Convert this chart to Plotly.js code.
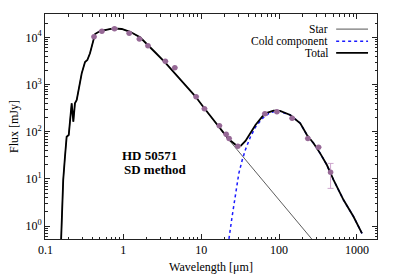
<!DOCTYPE html>
<html>
<head>
<meta charset="utf-8">
<script src="https://cdn.plot.ly/plotly-3.0.1.min.js"></script>
<style>html,body{margin:0;padding:0;background:#fff;}#chart{width:399px;height:279px;}</style>
</head>
<body>
<div id="chart"></div>
<script>
// Photometry (wavelength in micron, flux in mJy)
const obsWave = [0.42, 0.53, 0.77, 1.19, 1.61, 2.07, 3.46, 4.58, 8.6, 11.0, 17.1, 20.9, 22.8, 29.5, 65.6, 93.6, 147, 234, 321, 458];
const obsFlux = [10300, 13400, 15200, 12200, 9200, 6640, 3100, 2270, 552, 307, 134, 88, 72, 49, 240, 265, 192, 72, 47, 13.8];
const obsErr  = [null, null, null, null, null, null, null, null, null, null, null, null, null, null, null, null, null, null, null, 7.5];

// Stellar model
const starWave = [0.158, 0.163, 0.169, 0.178, 0.187, 0.199, 0.206, 0.217, 0.228, 0.239, 0.252, 0.272, 0.292, 0.322, 0.345, 0.373, 0.411, 0.433, 0.502, 0.612, 0.744, 0.953, 1.22, 1.64, 2.09, 2.69, 3.43, 4.39, 5.63, 7.2, 8.35, 10.9, 18.6, 28.9, 49.7, 81.5, 251, 300];
const starFlux = [0.4, 2.19, 9.5, 29.5, 78, 85, 177, 400, 163, 400, 470, 976, 1725, 3000, 3300, 4580, 8770, 11700, 13600, 14800, 15500, 15000, 13100, 10000, 6550, 4430, 2950, 1866, 1146, 737, 569, 318, 100, 41.6, 14.2, 5.36, 0.58, 0.41];

// Cold dust component
const coldWave = [22.0, 22.6, 24.9, 27.5, 30.4, 33.6, 37.0, 42.9, 49.7, 60.7, 74.0, 94.6, 139, 187, 228, 277, 337, 411, 500, 673, 904, 1159];
const coldFlux = [0.3, 0.51, 1.58, 4.95, 13.1, 25.1, 42, 78, 125, 190, 245, 279, 226, 151, 85, 56.8, 34.8, 19.7, 9.5, 3.57, 1.58, 0.70];

// Total model (long-wavelength part; short part follows the star)
const totWaveLong = [22.6, 28.9, 31.9, 37.0, 42.9, 49.7, 60.7, 66.9, 84.7, 103, 139, 187, 228, 277, 337, 411, 500, 673, 904, 1159];
const totFluxLong = [69, 49.8, 49.8, 64, 95, 139, 208, 245, 279, 275, 226, 151, 85, 56.8, 34.8, 19.7, 9.5, 3.57, 1.58, 0.70];

const cut = starWave.indexOf(18.6) + 1;
const totWave = starWave.slice(0, cut).concat(totWaveLong);
const totFlux = starFlux.slice(0, cut).concat(totFluxLong);

const xMinor = [0.2,0.3,0.4,0.5,0.6,0.7,0.8,0.9,2,3,4,5,6,7,8,9,20,30,40,50,60,70,80,90,200,300,400,500,600,700,800,900,2000];
const yMinor = [0.6,0.7,0.8,0.9,2,3,4,5,6,7,8,9,20,30,40,50,60,70,80,90,200,300,400,500,600,700,800,900,2000,3000,4000,5000,6000,7000,8000,9000,20000,30000];

const font = "Liberation Serif, Times New Roman, serif";

const traces = [
  {x: starWave, y: starFlux, mode: 'lines', line: {color: '#333', width: 0.8}, name: 'Star', hoverinfo: 'skip'},
  {x: coldWave, y: coldFlux, mode: 'lines', line: {color: '#1a1aff', width: 1.5, dash: 'dot'}, name: 'Cold component'},
  {x: totWave, y: totFlux, mode: 'lines', line: {color: '#000', width: 1.8}, name: 'Total'},
  {x: obsWave, y: obsFlux, mode: 'markers', marker: {color: 'rgb(150,105,150)', size: 5.5},
   error_y: {type: 'data', array: obsErr, visible: true, color: 'rgb(205,165,205)', thickness: 1, width: 3}, name: 'obs'}
];

const axisCommon = {
  type: 'log', showgrid: false, zeroline: false, showline: true, linecolor: '#222', linewidth: 1,
  mirror: 'ticks', ticks: 'inside', ticklen: 5, tickcolor: '#222', tickwidth: 1,
  tickfont: {family: font, size: 12, color: '#000'},
  minor: {tickmode: 'array', ticks: 'inside', ticklen: 2.5, tickcolor: '#222', showgrid: false}
};

const legendFont = {family: font, size: 11.5, color: '#000'};

const layout = {
  width: 399, height: 279,
  margin: {l: 45, r: 22.3, t: 14, b: 40},
  paper_bgcolor: '#fff', plot_bgcolor: '#fff',
  showlegend: false,
  font: {family: font, color: '#000'},
  xaxis: Object.assign({}, axisCommon, {
    range: [-1.006, 3.257],
    tickmode: 'array', tickvals: [0.1, 1, 10, 100, 1000], ticktext: ['0.1', '1', '10', '100', '1000'],
    minor: Object.assign({}, axisCommon.minor, {tickvals: xMinor}),
    title: {text: 'Wavelength [μm]', font: {family: font, size: 12}, standoff: 6}
  }),
  yaxis: Object.assign({}, axisCommon, {
    range: [-0.273, 4.494],
    tickmode: 'array', tickvals: [1, 10, 100, 1000, 10000],
    ticktext: ['10<sup>0</sup>', '10<sup>1</sup>', '10<sup>2</sup>', '10<sup>3</sup>', '10<sup>4</sup>'],
    minor: Object.assign({}, axisCommon.minor, {tickvals: yMinor}),
    title: {text: 'Flux [mJy]', font: {family: font, size: 12}, standoff: 4}
  }),
  annotations: [
    {xref: 'paper', yref: 'paper', x: 0.225, y: 0.370, yanchor: 'middle', text: '<b>HD 50571</b>', showarrow: false,
     font: {family: font, size: 13, color: '#000'}},
    {xref: 'paper', yref: 'paper', x: 0.231, y: 0.307, yanchor: 'middle', text: '<b>SD method</b>', showarrow: false,
     font: {family: font, size: 13, color: '#000'}},
    {xref: 'paper', yref: 'paper', x: 0.855, y: 0.933, yanchor: 'middle', xanchor: 'right', text: 'Star', showarrow: false, font: legendFont, borderpad: 0},
    {xref: 'paper', yref: 'paper', x: 0.855, y: 0.879, yanchor: 'middle', xanchor: 'right', text: 'Cold component', showarrow: false, font: legendFont, borderpad: 0},
    {xref: 'paper', yref: 'paper', x: 0.855, y: 0.827, yanchor: 'middle', xanchor: 'right', text: 'Total', showarrow: false, font: legendFont, borderpad: 0}
  ],
  shapes: [
    {type: 'line', xref: 'paper', yref: 'paper', x0: 0.877, x1: 0.973, y0: 0.933, y1: 0.933, line: {color: '#777', width: 1.2}},
    {type: 'line', xref: 'paper', yref: 'paper', x0: 0.877, x1: 0.973, y0: 0.879, y1: 0.879, line: {color: '#1a1aff', width: 1.5, dash: 'dot'}},
    {type: 'line', xref: 'paper', yref: 'paper', x0: 0.877, x1: 0.973, y0: 0.827, y1: 0.827, line: {color: '#000', width: 1.8}}
  ]
};

Plotly.newPlot('chart', traces, layout, {displayModeBar: false, staticPlot: true});
</script>
</body>
</html>
